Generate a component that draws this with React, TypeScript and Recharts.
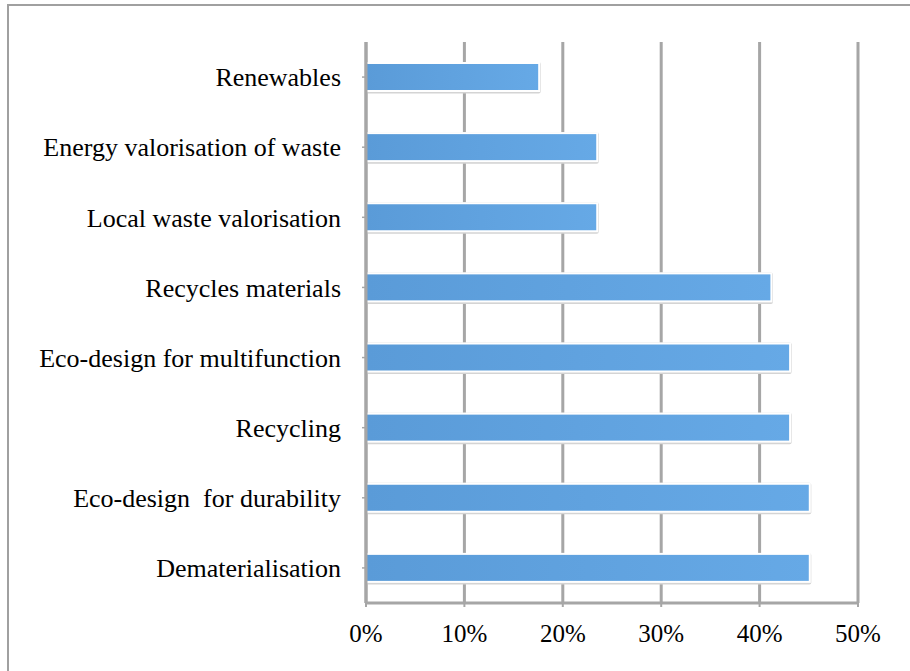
import { BarChart, Bar, XAxis, YAxis, CartesianGrid } from "recharts";

const categories = [
  "Renewables",
  "Energy valorisation of waste",
  "Local waste valorisation",
  "Recycles materials",
  "Eco-design for multifunction",
  "Recycling",
  "Eco-design  for durability",
  "Dematerialisation",
];

const shares = [17.6, 23.5, 23.5, 41.2, 43.1, 43.1, 45.1, 45.1];

const xTicks = [0, 10, 20, 30, 40, 50];

const rows = categories.map((name, i) => ({ name, value: shares[i] }));

const FONT = "'Liberation Serif', 'Times New Roman', serif";
const GRID = "#a6a6a6";

// bar with white rim and soft grey edge
function BarShape(props: any) {
  const { x, y, width, height } = props;
  if (!width || width <= 0) return null;
  return (
    <g>
      <rect x={x - 1} y={y - 1} width={width + 2.5} height={height + 3.5} fill="#d4d4d4" rx={2} />
      <rect x={x} y={y} width={width} height={height} fill="url(#barFill)" stroke="#ffffff" strokeWidth={2} />
    </g>
  );
}

// category label, keeps the double space
function CategoryTick(props: any) {
  const { x, y, payload } = props;
  return (
    <text
      x={x}
      y={y}
      dy="0.355em"
      textAnchor="end"
      fill="#000"
      fontSize={26}
      fontFamily={FONT}
      style={{ whiteSpace: "pre" }}
    >
      {payload.value}
    </text>
  );
}

export default function App() {
  return (
    <div
      style={{
        position: "absolute",
        left: 0,
        top: 0,
        width: 910,
        height: 671,
        overflow: "hidden",
        background: "#fff",
      }}
    >
      <div
        style={{
          position: "absolute",
          left: 7,
          top: 4,
          width: 960,
          height: 720,
          borderLeft: "2px solid #a0a0a0",
          borderTop: "2px solid #a0a0a0",
        }}
      />
      <div style={{ position: "absolute", left: 0, top: 0 }}>
        <BarChart
          width={910}
          height={671}
          data={rows}
          layout="vertical"
          margin={{ top: 42, right: 52, bottom: 0, left: 0 }}
          barCategoryGap="30%"
        >
          <defs>
            <linearGradient id="barFill" x1="0" y1="0" x2="1" y2="0">
              <stop offset="0%" stopColor="#5a9bd8" />
              <stop offset="100%" stopColor="#66a9e6" />
            </linearGradient>
          </defs>
          <CartesianGrid horizontal={false} stroke={GRID} strokeWidth={3} />
          <XAxis
            type="number"
            domain={[0, 50]}
            ticks={xTicks}
            tickFormatter={(v) => `${v}%`}
            height={68}
            axisLine={{ stroke: GRID, strokeWidth: 3 }}
            tickLine={{ stroke: GRID, strokeWidth: 2 }}
            tickSize={4}
            tickMargin={17}
            tick={{ fill: "#000", fontSize: 25, fontFamily: FONT }}
          />
          <YAxis
            type="category"
            dataKey="name"
            width={366}
            axisLine={{ stroke: GRID, strokeWidth: 3 }}
            tickLine={{ stroke: GRID, strokeWidth: 1.5 }}
            tickSize={4}
            tickMargin={21}
            interval={0}
            tick={<CategoryTick />}
          />
          <Bar dataKey="value" barSize={28} shape={BarShape} isAnimationActive={false} />
        </BarChart>
      </div>
    </div>
  );
}
